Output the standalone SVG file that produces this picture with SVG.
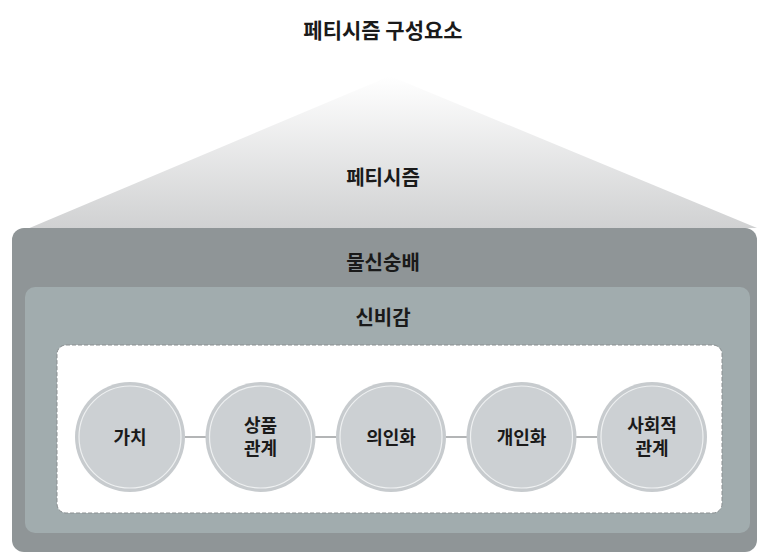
<svg xmlns="http://www.w3.org/2000/svg" width="761" height="555" viewBox="0 0 761 555">
<defs>
<linearGradient id="roof" x1="0" y1="0" x2="0" y2="1">
<stop offset="0" stop-color="#ffffff"/>
<stop offset="1" stop-color="#cfd0d1"/>
</linearGradient>
<style>
text{font-family:"Noto Sans CJK KR","Noto Sans",sans-serif;font-weight:bold;fill:#1a1a1a;text-anchor:middle}
.lbl{font-size:20px}
.node{font-size:18px}
.ring{fill:#c7cbce}
.inner{fill:#ccd0d3;stroke:#eef0f1;stroke-width:1.2}
.conn{stroke:#9a9c9e;stroke-width:1.5}
</style>
</defs>
<rect width="761" height="555" fill="#ffffff"/>
<text x="383" y="38" style="font-size:21px">페티시즘 구성요소</text>
<g id="roof-layer">
<polygon points="20,232 390,76 757,228" fill="url(#roof)"/>
<text class="lbl" x="383" y="185">페티시즘</text>
</g>
<g id="outer">
<rect x="12" y="228" width="745" height="324" rx="12" fill="#8f9597"/>
<text class="lbl" x="383" y="270">물신숭배</text>
</g>
<g id="mystique">
<rect x="25" y="287" width="725" height="246" rx="10" fill="#a1acae"/>
<text class="lbl" x="383" y="325">신비감</text>
</g>
<g id="frame">
<rect x="57" y="345" width="665" height="168" rx="9" fill="#ffffff" stroke="#8a8f91" stroke-width="1" stroke-dasharray="4,2"/>
</g>
<g id="connectors">
<line class="conn" x1="185" y1="437" x2="206" y2="437"/>
<line class="conn" x1="315" y1="437" x2="336" y2="437"/>
<line class="conn" x1="446" y1="437" x2="467" y2="437"/>
<line class="conn" x1="576" y1="437" x2="597" y2="437"/>
</g>
<g id="n1">
<circle class="ring" cx="130" cy="437" r="55"/>
<circle class="inner" cx="130" cy="437" r="51"/>
<text class="node" x="130" y="444">가치</text>
</g>
<g id="n2">
<circle class="ring" cx="260.5" cy="437" r="55"/>
<circle class="inner" cx="260.5" cy="437" r="51"/>
<text class="node" x="260.5" y="432">상품</text>
<text class="node" x="260.5" y="455">관계</text>
</g>
<g id="n3">
<circle class="ring" cx="391" cy="437" r="55"/>
<circle class="inner" cx="391" cy="437" r="51"/>
<text class="node" x="391" y="444">의인화</text>
</g>
<g id="n4">
<circle class="ring" cx="521.5" cy="437" r="55"/>
<circle class="inner" cx="521.5" cy="437" r="51"/>
<text class="node" x="521.5" y="444">개인화</text>
</g>
<g id="n5">
<circle class="ring" cx="652" cy="437" r="55"/>
<circle class="inner" cx="652" cy="437" r="51"/>
<text class="node" x="652" y="432">사회적</text>
<text class="node" x="652" y="455">관계</text>
</g>
</svg>
